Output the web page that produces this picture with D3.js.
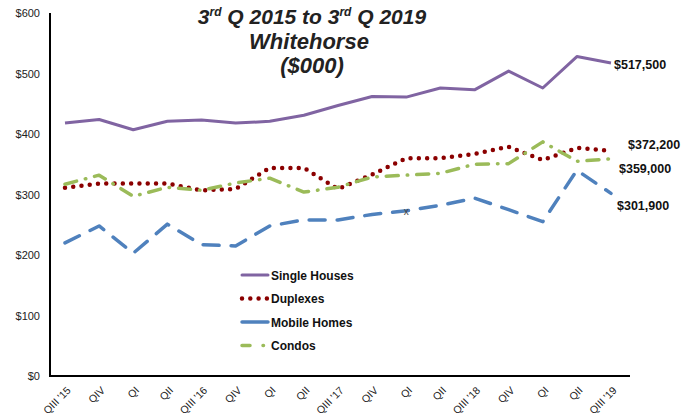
<!DOCTYPE html>
<html>
<head>
<meta charset="utf-8">
<script src="https://cdn.jsdelivr.net/npm/d3@7"></script>
<style>
  body { margin: 0; background: #fff; }
  svg { font-family: "Liberation Sans", Arial, sans-serif; }
</style>
</head>
<body>
<div id="chart"></div>
<script>
// quarters along the x axis
var quarters = ["QIII '15", "QIV", "QI", "QII", "QIII '16", "QIV", "QI", "QII",
    "QIII '17", "QIV", "QI", "QII", "QIII '18", "QIV", "QI", "QII", "QIII '19"];

// average prices, $000
var singleHouses = [418, 424, 407, 421, 423, 418, 421, 431, 447, 462, 461, 476, 473, 504, 476, 528, 517.5];
var duplexes     = [311, 318, 318, 318, 307, 309, 344, 344, 309, 333, 360, 360, 367, 379, 357, 377, 372.2];
var mobileHomes  = [220, 248, 203, 251, 217, 215, 248, 258, 258, 267, 273, 282, 294, 275, 255, 340, 301.9];
var condos       = [317, 332, 297, 312, 307, 319, 327, 304, 312, 329, 332, 335, 350, 351, 387, 355, 359];

var yTicks = [0, 100, 200, 300, 400, 500, 600];
var titleLines = ["Whitehorse", "($000)"];
var endLabels = ["$517,500", "$372,200", "$359,000", "$301,900"];

var series = [
    {name: "Single Houses", values: singleHouses, color: "#8064a2", width: 3, dash: null, cap: "butt"},
    {name: "Duplexes", values: duplexes, color: "#8b0000", width: 4.5, dash: "0 8.3", cap: "round"},
    {name: "Mobile Homes", values: mobileHomes, color: "#4f81bd", width: 3.5, dash: "16 12", cap: "round"},
    {name: "Condos", values: condos, color: "#9bbb59", width: 3.5, dash: "12 9 0.5 9", cap: "round"}
];

var width = 690, height = 417;
var plot = {left: 50, right: 630, top: 13, bottom: 376};

var svg = d3.select("#chart").append("svg")
    .attr("width", width)
    .attr("height", height);

var x = d3.scalePoint()
    .domain(d3.range(quarters.length))
    .range([65, 611]);

var y = d3.scaleLinear()
    .domain([0, 600])
    .range([plot.bottom, plot.top]);

// y axis
var yAxis = d3.axisLeft(y)
    .tickValues(yTicks)
    .tickSize(0)
    .tickPadding(10)
    .tickFormat(function (d) { return "$" + d; });

var gy = svg.append("g")
    .attr("transform", "translate(" + plot.left + ",0)")
    .call(yAxis);
gy.select(".domain").remove();
gy.selectAll("text").attr("font-size", 11).attr("fill", "#222");

// x axis: labels from the point scale, baseline drawn across the full plot
var xAxis = d3.axisBottom(x)
    .tickSize(0)
    .tickFormat(function (i) { return quarters[i]; });

var gx = svg.append("g")
    .attr("transform", "translate(0," + plot.bottom + ")")
    .call(xAxis);
gx.select(".domain").remove();
gx.selectAll("text")
    .attr("font-size", 10.5)
    .attr("fill", "#222")
    .attr("text-anchor", "end")
    .attr("x", 0)
    .attr("y", 0)
    .attr("dy", 0)
    .attr("transform", "translate(6,15) rotate(-45)");

svg.append("path")
    .attr("fill", "none")
    .attr("stroke", "#000")
    .attr("stroke-width", 2)
    .attr("d", "M" + plot.left + "," + plot.top + "V" + plot.bottom + "H" + plot.right);

// lines
var line = d3.line()
    .x(function (d, i) { return x(i); })
    .y(function (d) { return y(d); });

series.forEach(function (s) {
    svg.append("path")
        .datum(s.values)
        .attr("fill", "none")
        .attr("stroke", s.color)
        .attr("stroke-width", s.width)
        .attr("stroke-linecap", s.cap)
        .attr("stroke-linejoin", "round")
        .attr("stroke-dasharray", s.dash)
        .attr("d", line);
});

// stray marker on the mobile homes line
svg.append("text")
    .attr("x", x(10))
    .attr("y", y(mobileHomes[10]) + 4)
    .attr("text-anchor", "middle")
    .attr("font-size", 10)
    .attr("fill", "#444")
    .text("x");

// end labels
var labelPos = [[614, 69], [628, 149], [619, 173], [617, 210]];
endLabels.forEach(function (t, i) {
    svg.append("text")
        .attr("x", labelPos[i][0])
        .attr("y", labelPos[i][1])
        .attr("font-size", 12.5)
        .attr("font-weight", "bold")
        .attr("fill", "#111")
        .text(t);
});

// title
var title = svg.append("g")
    .attr("font-size", 21)
    .attr("font-weight", "bold")
    .attr("font-style", "italic")
    .attr("fill", "#222")
    .attr("text-anchor", "middle");

var t1 = title.append("text").attr("x", 312).attr("y", 24);
t1.append("tspan").text("3");
t1.append("tspan").attr("font-size", 12).attr("dy", -8).text("rd");
t1.append("tspan").attr("dy", 8).text(" Q 2015 to 3");
t1.append("tspan").attr("font-size", 12).attr("dy", -8).text("rd");
t1.append("tspan").attr("dy", 8).text(" Q 2019");

titleLines.forEach(function (t, i) {
    title.append("text")
        .attr("x", i === 0 ? 309 : 312)
        .attr("y", 49 + i * 24)
        .attr("font-size", 22)
        .text(t);
});

// legend
var legend = svg.append("g").attr("transform", "translate(240,275)");
series.forEach(function (s, i) {
    var g = legend.append("g").attr("transform", "translate(0," + i * 23.5 + ")");
    g.append("line")
        .attr("x1", 2)
        .attr("x2", 28)
        .attr("y1", 0)
        .attr("y2", 0)
        .attr("stroke", s.color)
        .attr("stroke-width", s.width)
        .attr("stroke-linecap", "round")
        .attr("stroke-dasharray", s.name === "Duplexes" ? "0 8.3" :
            s.name === "Condos" ? "8 13 0.5 20" : null);
    g.append("text")
        .attr("x", 31)
        .attr("y", 4.5)
        .attr("font-size", 12)
        .attr("font-weight", "bold")
        .attr("fill", "#111")
        .text(s.name);
});
</script>
</body>
</html>
